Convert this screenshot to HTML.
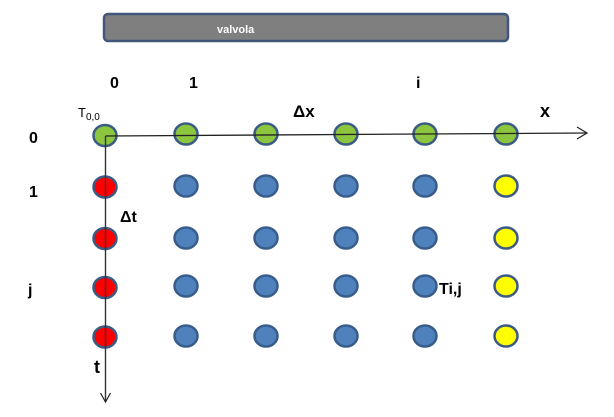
<!DOCTYPE html>
<html><head><meta charset="utf-8"><style>
html,body{margin:0;padding:0;background:#fff;}
svg{display:block;}
text{font-family:"Liberation Sans",sans-serif;}
</style></head><body>
<svg width="614" height="417" viewBox="0 0 614 417" xmlns="http://www.w3.org/2000/svg">
<rect x="104" y="14" width="404" height="27" rx="4" fill="#7f7f7f" stroke="#41587a" stroke-width="2.5"/>
<text x="217" y="33" font-size="11" font-weight="bold" fill="#fff">valvola</text>

<g font-weight="bold" font-size="16" fill="#000">
<text x="110" y="88">0</text>
<text x="189" y="88">1</text>
<text x="416" y="88">i</text>
<text x="29" y="143">0</text>
<text x="29" y="197">1</text>
<text x="28" y="295">j</text>
<text x="293" y="117" font-size="17">Δx</text>
<text x="540" y="117" font-size="18">x</text>
<text x="120" y="222" font-size="16">Δt</text>
<text x="94" y="373" font-size="18">t</text>
<text x="439" y="294" font-size="16">Ti,j</text>
</g>
<text x="78" y="117" font-size="13" fill="#000">T<tspan font-size="10" dy="3">0,0</tspan></text>

<!-- row 0 green -->
<g stroke="#3b5b85" stroke-width="2.5" fill="#8cc63f">
<ellipse cx="105" cy="135.5" rx="11.5" ry="10.5"/>
<ellipse cx="186" cy="134" rx="11.5" ry="10.5"/>
<ellipse cx="266" cy="134" rx="11.5" ry="10.5"/>
<ellipse cx="346" cy="134" rx="11.5" ry="10.5"/>
<ellipse cx="425" cy="134" rx="11.5" ry="10.5"/>
<ellipse cx="506" cy="134" rx="11.5" ry="10.5"/>
</g>
<!-- red column -->
<g stroke="#3b5b85" stroke-width="2.5" fill="#ff0000">
<ellipse cx="105" cy="187" rx="11.5" ry="10.5"/>
<ellipse cx="105" cy="238.5" rx="11.5" ry="10.5"/>
<ellipse cx="105" cy="287.5" rx="11.5" ry="10.5"/>
<ellipse cx="105" cy="337" rx="11.5" ry="10.5"/>
</g>
<!-- blue -->
<g stroke="#385d8a" stroke-width="2.5" fill="#4f81bd">
<ellipse cx="186" cy="186" rx="11.5" ry="10.5"/>
<ellipse cx="266" cy="186" rx="11.5" ry="10.5"/>
<ellipse cx="346" cy="186" rx="11.5" ry="10.5"/>
<ellipse cx="425" cy="186" rx="11.5" ry="10.5"/>
<ellipse cx="186" cy="238" rx="11.5" ry="10.5"/>
<ellipse cx="266" cy="238" rx="11.5" ry="10.5"/>
<ellipse cx="346" cy="238" rx="11.5" ry="10.5"/>
<ellipse cx="425" cy="238" rx="11.5" ry="10.5"/>
<ellipse cx="186" cy="286" rx="11.5" ry="10.5"/>
<ellipse cx="266" cy="286" rx="11.5" ry="10.5"/>
<ellipse cx="346" cy="286" rx="11.5" ry="10.5"/>
<ellipse cx="425" cy="286" rx="11.5" ry="10.5"/>
<ellipse cx="186" cy="336" rx="11.5" ry="10.5"/>
<ellipse cx="266" cy="336" rx="11.5" ry="10.5"/>
<ellipse cx="346" cy="336" rx="11.5" ry="10.5"/>
<ellipse cx="425" cy="336" rx="11.5" ry="10.5"/>
</g>
<!-- yellow -->
<g stroke="#3b5b85" stroke-width="2.5" fill="#ffff00">
<ellipse cx="506" cy="186" rx="11.5" ry="10.5"/>
<ellipse cx="506" cy="238" rx="11.5" ry="10.5"/>
<ellipse cx="506" cy="286" rx="11.5" ry="10.5"/>
<ellipse cx="506" cy="336" rx="11.5" ry="10.5"/>
</g>

<!-- axes -->
<line x1="105.5" y1="136" x2="587" y2="133" stroke="#222" stroke-width="1.3"/>
<polyline points="577,127 587,133 577,139" fill="none" stroke="#222" stroke-width="1.2"/>
<line x1="105.5" y1="136" x2="105.5" y2="402" stroke="#333" stroke-width="1.4"/>
<polyline points="100.5,393 105.5,402 110.5,393" fill="none" stroke="#222" stroke-width="1.2"/>
</svg>
</body></html>
